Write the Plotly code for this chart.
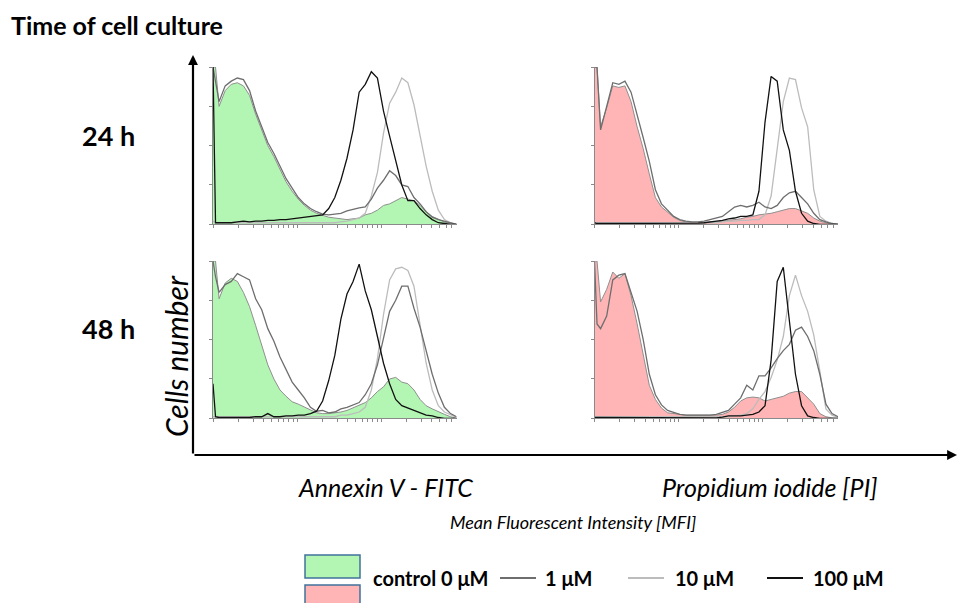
import plotly.graph_objects as go

W, H = 958, 603

# ---- data -------------------------------------------------------------
# fluorescence channel positions, in decades (log10 of intensity)
decades = [0, 0.03, 0.0725, 0.145, 0.2175, 0.29, 0.3625, 0.435, 0.5075, 0.58,
           0.6525, 0.725, 0.7975, 0.87, 0.9425, 1.015, 1.0875, 1.16, 1.2325,
           1.305, 1.3775, 1.45, 1.5225, 1.595, 1.6675, 1.74, 1.8125, 1.885,
           1.9575, 2.03, 2.1025, 2.175, 2.2475, 2.32, 2.3925, 2.465, 2.5375,
           2.61, 2.6825, 2.755, 2.8275, 2.9]

# Annexin V - FITC, 24 h (cell count, % of mode)
annexin_24h_ctrl = [100, 100, 75, 85, 89, 90, 88, 82, 70, 60, 50, 43, 35, 27, 21, 16, 12, 9, 7, 5.5, 4.5,
                    4, 3.5, 3, 3.5, 4, 6, 7, 9, 12, 13, 15, 17, 16, 15, 12, 8, 5, 3, 1.5, 0.5, 0]
annexin_24h_1uM = [100, 90, 78, 88, 91, 93, 92, 85, 72, 62, 52, 45, 37, 29, 23, 17, 13, 10, 8, 6.5, 6,
                   6.5, 7, 8.5, 9.5, 10.5, 11, 16, 23, 28, 34, 31, 25, 24, 17, 13, 8, 4.5, 3, 2, 1, 0]
annexin_24h_10uM = [2, 1, 1, 1, 1, 1, 1, 1, 1, 1, 1, 1, 1, 1, 1, 1, 1, 1, 1, 1, 1, 1,
                    1.5, 2, 3, 4, 7, 18, 33, 58, 77, 84, 93, 90, 76, 56, 37, 21, 9, 3, 1, 0]
annexin_24h_100uM = [100, 1, 1, 1, 1, 1.5, 2, 1.5, 2, 2, 2.5, 2.5, 3, 3, 3.5, 4, 4.5, 5, 5.5, 6, 10,
                     17, 28, 42, 60, 84, 89, 97, 93, 72, 56, 41, 25, 15, 15, 10, 6, 3, 1, 0.5, 0, 0]

# Propidium iodide, 24 h
pi_24h_ctrl = [100, 100, 62, 74, 88, 87, 88, 78, 62, 48, 32, 17, 11, 8, 4.5, 2.5, 1.5, 1, 1, 1, 1.5,
               1.5, 2, 2.5, 3, 3.5, 4.5, 5, 6, 6.5, 7, 8, 9, 10, 10, 8.5, 7, 4, 2, 1, 0.5, 0]
pi_24h_1uM = [100, 100, 60, 76, 90, 89, 91, 84, 70, 55, 40, 22, 13, 9, 5, 3, 2, 1.5, 1.5, 2, 3,
              4, 5, 8, 11, 12, 11, 12, 14, 11, 10, 12, 17, 20, 21, 17, 13, 7, 3, 1.5, 0.5, 0]
pi_24h_10uM = [1, 1, 1, 1, 1, 1, 1, 1, 1, 1, 1, 1, 1, 1, 1, 1, 1, 1, 1, 1, 1, 1,
               1.5, 2, 2, 2.5, 2.5, 3, 3, 6, 18, 47, 78, 93, 92, 74, 62, 22, 5, 2, 0.5, 0]
pi_24h_100uM = [1, 0.5, 0.5, 0.5, 0.5, 0.5, 0.5, 0.5, 0.5, 0.5, 0.5, 0.5, 0.5, 0.8, 0.8, 0.8, 0.8, 0.8, 0.8, 1, 1.5,
                2, 2.5, 3.5, 4, 5, 5, 6, 21, 65, 94, 91, 60, 47, 21, 7, 2, 0.5, 0, 0, 0, 0]

# Annexin V - FITC, 48 h
annexin_48h_ctrl = [100, 100, 76, 86, 89, 87, 80, 71, 59, 46, 34, 25, 18, 14, 10.5, 9, 7, 5, 3.5, 3, 3,
                    3.5, 4, 5, 6.5, 8, 10, 13, 17, 20, 25, 26, 23, 22, 18, 12, 8, 6, 4, 2.5, 1, 0]
annexin_48h_1uM = [100, 90, 80, 85, 87, 92, 90, 88, 76, 69, 57, 49, 39, 31, 23, 18, 13, 7, 4.5, 5, 3.5,
                   4, 6, 7, 8.5, 10, 15, 22, 34, 50, 68, 75, 84, 84, 70, 58, 42, 28, 16, 7, 3, 1]
annexin_48h_10uM = [1, 1, 1, 1, 1, 1, 1, 1, 1, 1, 1, 1, 1, 1, 1, 1, 1, 1, 1, 1, 1, 1,
                    2, 2, 3, 4, 7, 18, 38, 66, 88, 95, 96, 94, 84, 60, 35, 18, 8, 4, 2, 0.5]
annexin_48h_100uM = [22, 1, 0.5, 0.5, 0.5, 0.5, 0.5, 0.5, 1, 1, 3, 1, 1, 1.5, 1.5, 2, 2, 3, 4.5, 11, 24,
                     40, 63, 79, 87, 98, 81, 69, 52, 35, 22, 12, 8, 6.5, 4.5, 3, 2, 1.5, 0.5, 0, 0, 0]

# Propidium iodide, 48 h
pi_48h_ctrl = [100, 100, 74, 82, 93, 89, 92, 78, 60, 40, 21, 12, 6.5, 3.5, 3, 2.5, 2, 2, 2, 2, 2,
               2, 2.5, 4, 7, 11, 13, 13.5, 13, 11, 12, 13, 14, 16, 17, 17, 13, 9, 3, 1, 0.3, 0]
pi_48h_1uM = [100, 60, 57, 65, 88, 91, 92, 80, 68, 50, 28, 15, 8.5, 5, 3.5, 2.5, 2, 2, 2, 2, 2,
              2.5, 3.5, 5, 9, 13, 21, 18, 27, 27, 32, 38, 43, 47, 56, 58, 52, 43, 28, 9, 3, 1]
pi_48h_10uM = [1, 1, 1, 1, 1, 1, 1, 1, 1, 1, 1, 1, 1, 1, 1, 1, 1, 1, 1, 1, 1, 1,
               1, 1, 1.5, 2, 3, 6, 12, 17, 26, 37, 52, 78, 91, 78, 68, 53, 30, 6, 2, 0.5]
pi_48h_100uM = [0.5, 0.5, 0.3, 0.3, 0.3, 0.3, 0.3, 0.3, 0.3, 0.3, 0.3, 0.3, 0.3, 0.3, 0.3, 0.3, 0.3, 0.3, 0.3, 0.3, 0.3,
                0.3, 0.8, 1.5, 1.5, 1.5, 2, 2.5, 4, 8, 37, 87, 96, 62, 28, 8, 1.5, 0.5, 0, 0, 0, 0]

x_tick_values = [1, 2, 3, 4, 5, 6, 7, 8, 9, 10, 20, 30, 40, 50, 60, 70, 80, 90,
                 100, 200, 300, 400, 500, 600, 700]
y_tick_values = [0, 25, 50, 75, 100]

series_names = ["control 0 μM", "1 μM", "10 μM", "100 μM"]
row_labels = ["24 h", "48 h"]
column_labels = ["Annexin V - FITC", "Propidium iodide [PI]"]

# ---- styling -----------------------------------------------------------
GREEN = "#b3f5b3"
PINK = "#ffb5b5"
C1 = "#6e6e6e"
C10 = "#bcbcbc"
C100 = "#111111"
AXGREY = "#8a8a8a"
FONT = "Lato"

channels = [10 ** d for d in decades]

panels = [
    # (x-domain px, y-domain px (bottom, top), fill colour, series)
    ((213, 456.6), (224.3, 67), GREEN,
     [annexin_24h_ctrl, annexin_24h_1uM, annexin_24h_10uM, annexin_24h_100uM]),
    ((594.5, 838.1), (224.3, 67), PINK,
     [pi_24h_ctrl, pi_24h_1uM, pi_24h_10uM, pi_24h_100uM]),
    ((213, 456.6), (418.3, 261), GREEN,
     [annexin_48h_ctrl, annexin_48h_1uM, annexin_48h_10uM, annexin_48h_100uM]),
    ((594.5, 838.1), (418.3, 261), PINK,
     [pi_48h_ctrl, pi_48h_1uM, pi_48h_10uM, pi_48h_100uM]),
]

fig = go.Figure()
layout_axes = {}
for k, (xpx, ypx, fillc, series) in enumerate(panels, start=1):
    xa = "x" if k == 1 else f"x{k}"
    ya = "y" if k == 1 else f"y{k}"
    ctrl, s1, s10, s100 = series
    fig.add_trace(go.Scatter(x=channels, y=ctrl, mode="lines", fill="tozeroy",
                             fillcolor=fillc, line=dict(color="#8f8f8f", width=1),
                             xaxis=xa, yaxis=ya, showlegend=False,
                             name=series_names[0]))
    for vals, col, nm in ((s10, C10, series_names[2]), (s1, C1, series_names[1]),
                          (s100, C100, series_names[3])):
        fig.add_trace(go.Scatter(x=channels, y=vals, mode="lines",
                                 line=dict(color=col, width=1.3),
                                 xaxis=xa, yaxis=ya, showlegend=False, name=nm))
    xkey = "xaxis" if k == 1 else f"xaxis{k}"
    ykey = "yaxis" if k == 1 else f"yaxis{k}"
    layout_axes[xkey] = dict(
        type="log", range=[0, 2.9], domain=[xpx[0] / W, xpx[1] / W], anchor=ya,
        showline=True, linecolor=AXGREY, linewidth=1, ticks="outside", ticklen=3,
        tickcolor=AXGREY, tickwidth=1, tickvals=x_tick_values, showticklabels=False,
        showgrid=False, zeroline=False, fixedrange=True)
    layout_axes[ykey] = dict(
        range=[0, 100], domain=[1 - ypx[0] / H, 1 - ypx[1] / H], anchor=xa,
        showline=True, linecolor=AXGREY, linewidth=1, ticks="outside", ticklen=3,
        tickcolor=AXGREY, tickwidth=1, tickvals=y_tick_values, showticklabels=False,
        showgrid=False, zeroline=False, fixedrange=True)

fig.update_layout(**layout_axes)


def px(x):
    return x / W


def py(y):
    return 1 - y / H


ann = []
# main axis arrows
ann.append(dict(x=px(193), y=py(55), xref="paper", yref="paper", text="",
                showarrow=True, ax=0, ay=400, arrowhead=2, arrowsize=0.9,
                arrowwidth=2.2, arrowcolor="black", standoff=0))
ann.append(dict(x=px(957), y=py(455), xref="paper", yref="paper", text="",
                showarrow=True, ax=-764, ay=0, arrowhead=2, arrowsize=0.9,
                arrowwidth=2.2, arrowcolor="black", standoff=0))


def text(x, y, s, size, xanchor="center", angle=0):
    ann.append(dict(x=px(x), y=py(y), xref="paper", yref="paper", text=s,
                    showarrow=False, xanchor=xanchor, yanchor="middle",
                    textangle=angle, font=dict(family=FONT, size=size, color="black")))


text(9, 25, "<b>Time of cell culture</b>", 25, xanchor="left")
text(108, 135, f"<b>{row_labels[0]}</b>", 27)
text(108, 328, f"<b>{row_labels[1]}</b>", 27)
text(176, 356, "<i>Cells number</i>", 30, angle=-90)
text(385, 487, f"<i>{column_labels[0]}</i>", 25)
text(770, 487, f"<i>{column_labels[1]}</i>", 25)
text(573, 522, "<i>Mean Fluorescent Intensity [MFI]</i>", 18)

# legend
shapes = [
    dict(type="rect", xref="paper", yref="paper", x0=px(305), x1=px(360),
         y0=py(578), y1=py(555), fillcolor=GREEN, line=dict(color="#41719c", width=1.5)),
    dict(type="rect", xref="paper", yref="paper", x0=px(305), x1=px(360),
         y0=py(606), y1=py(585), fillcolor=PINK, line=dict(color="#41719c", width=1.5)),
]
text(371, 578, f"<b>{series_names[0]}</b>", 20, xanchor="left")
for (x0, x1, tx, col, nm) in ((500, 536, 543, C1, series_names[1]),
                              (628, 664, 673, C10, series_names[2]),
                              (767, 803, 811, C100, series_names[3])):
    shapes.append(dict(type="line", xref="paper", yref="paper", x0=px(x0), x1=px(x1),
                       y0=py(578), y1=py(578), line=dict(color=col, width=2.2)))
    text(tx, 578, f"<b>{nm}</b>", 20, xanchor="left")

fig.update_layout(width=W, height=H, margin=dict(l=0, r=0, t=0, b=0),
                  paper_bgcolor="white", plot_bgcolor="rgba(0,0,0,0)",
                  annotations=ann, shapes=shapes, showlegend=False)
fig.write_html("out.html", config={"displayModeBar": False},
               post_script="document.body.style.margin='0px';document.body.style.overflow='hidden';")
